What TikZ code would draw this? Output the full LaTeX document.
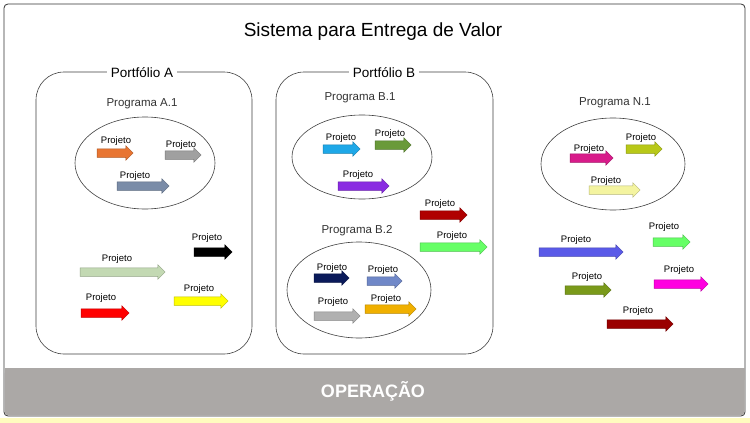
\documentclass[tikz,border=0pt]{standalone}
\usepackage{fontspec}
\setmainfont{Liberation Sans}
\usetikzlibrary{shapes.arrows,shapes.geometric}
\begin{document}
\begin{tikzpicture}[x=1pt,y=-1pt,
  arr/.style={single arrow, inner sep=0pt, single arrow head extend=3pt, single arrow head indent=0pt, draw=#1!75!black, fill=#1, line width=0.5pt},
  lbl/.style={font=\fontsize{9.5}{11}\selectfont, inner sep=0pt},
  prog/.style={font=\fontsize{11.5}{13}\selectfont, text=black!80},
  ell/.style={ellipse, draw=black!75, line width=0.6pt},
  port/.style={draw=black!75, rounded corners=28pt, line width=0.6pt}]
\useasboundingbox (0,0) rectangle (750,423);
\definecolor{cbar}{HTML}{ABA8A6}
\fill[yellow!25] (0,418) rectangle (750,423);
\draw[black!80, line width=0.8pt, rounded corners=4pt, fill=white] (4,4) rectangle (745,416);
\fill[fill=cbar] (4.5,368) rectangle (744.5,380);
\fill[rounded corners=4pt, fill=cbar] (4.5,370) rectangle (744.5,415.5);
\node (op) at (373,391) {\fontsize{18}{20}\selectfont\bfseries\color{white}OPERAÇÃO};
\node (title) at (373,32) {\fontsize{19}{22}\selectfont Sistema para Entrega de Valor};
\draw[port] (36,72) rectangle (252,354);
\node[fill=white, inner xsep=4pt, font=\fontsize{13.5}{15}\selectfont] (pa) at (142,73) {Portfólio A};
\draw[port] (276,72) rectangle (493,354);
\node[fill=white, inner xsep=4pt, font=\fontsize{13.5}{15}\selectfont] (pb) at (384,73) {Portfólio B};
\node[prog] (ta) at (142,104) {Programa A.1};
\node[ell, minimum width=140pt, minimum height=92pt] (ea) at (145,163) {};
\node[prog] (tb1) at (360,98) {Programa B.1};
\node[ell, minimum width=140pt, minimum height=84pt] (eb1) at (362,157) {};
\node[prog] (tb2) at (357,231) {Programa B.2};
\node[ell, minimum width=144pt, minimum height=96pt] (eb2) at (359,290) {};
\node[prog] (tn) at (615,103) {Programa N.1};
\node[ell, minimum width=144pt, minimum height=92pt] (en) at (613,164) {};
\newcommand{\proj}[7]{%
  \node[arr=#5, minimum height=#3pt] (#1) at (#2,#4) {\rule{0pt}{8pt}};
  \node[lbl] (#1l) at (#6,#7) {Projeto};}
\definecolor{corange}{HTML}{E87532}
\definecolor{cgray}{HTML}{A0A0A0}
\definecolor{cgray2}{HTML}{B0B0B0}
\definecolor{cslate}{HTML}{7A8CA8}
\definecolor{clgreen}{HTML}{C3D9B3}
\definecolor{cyel}{HTML}{FFFF00}
\definecolor{ccyan}{HTML}{1EA8E8}
\definecolor{cgreen}{HTML}{6A9A3A}
\definecolor{cpurple}{HTML}{8A2BE2}
\definecolor{cdred}{HTML}{B00000}
\definecolor{cbright}{HTML}{66FF66}
\definecolor{cnavy}{HTML}{0A1A5A}
\definecolor{csblue}{HTML}{7088C8}
\definecolor{cgold}{HTML}{F0B000}
\definecolor{cmag}{HTML}{D81B8A}
\definecolor{colive}{HTML}{B8C818}
\definecolor{clyel}{HTML}{F4F4A0}
\definecolor{cblue}{HTML}{5A5AE8}
\definecolor{cog}{HTML}{7A9A1A}
\definecolor{cmag2}{HTML}{FF00E0}
\definecolor{cdred2}{HTML}{9A0000}
\proj{a1}{113}{36}{153}{corange}{116}{141}
\proj{a2}{181}{36}{155}{cgray}{181}{145}
\proj{a3}{141}{52}{186}{cslate}{135}{176}
\proj{a4}{211}{38}{252}{black}{207}{238}
\proj{a5}{120.5}{85}{272}{clgreen}{117}{259}
\proj{a6}{103}{48}{313}{red}{101}{298}
\proj{a7}{199}{54}{301}{cyel}{199}{289}
\proj{b1}{339.5}{37}{149}{ccyan}{341}{138}
\proj{b2}{391}{36}{145}{cgreen}{390}{134}
\proj{b3}{361.5}{51}{186}{cpurple}{358}{175}
\proj{b4}{441.5}{47}{215}{cdred}{440}{204}
\proj{b5}{451.5}{67}{247}{cbright}{452}{236}
\proj{b6}{329.5}{35}{278}{cnavy}{332}{268}
\proj{b7}{382.5}{35}{281}{csblue}{383}{270}
\proj{b8}{335}{46}{316}{cgray2}{333}{302}
\proj{b9}{388.5}{51}{309}{cgold}{386}{299}
\proj{n1}{589.5}{43}{158}{cmag}{589}{149}
\proj{n2}{642}{36}{149}{colive}{641}{138}
\proj{n3}{612.5}{51}{190}{clyel}{606}{181}
\proj{n4}{579}{84}{252}{cblue}{576}{240}
\proj{n5}{586}{46}{290}{cog}{587}{277}
\proj{n6}{669.5}{37}{242}{cbright}{664}{227}
\proj{n7}{679}{54}{284}{cmag2}{679}{270}
\proj{n8}{638}{66}{324}{cdred2}{638}{311}
\end{tikzpicture}
\end{document}
